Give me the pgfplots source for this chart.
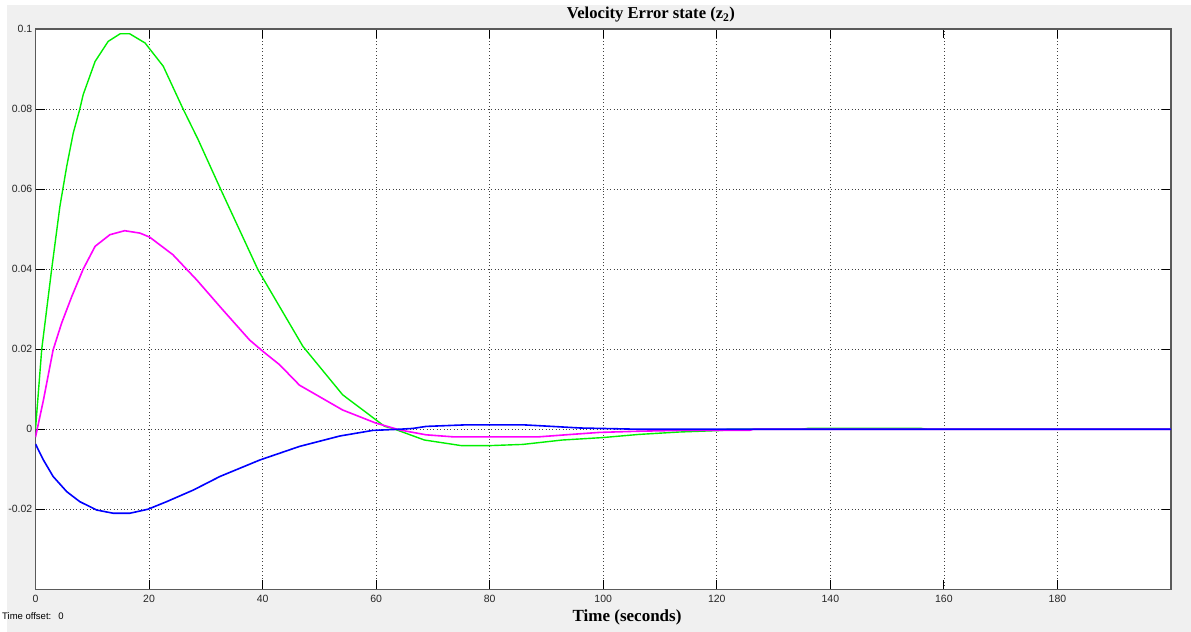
\documentclass[border=0pt]{standalone}
\usepackage{pgfplots}
\pgfplotsset{compat=1.18}
\usepackage{fontspec}
\setmainfont{Liberation Sans}
\newfontfamily\titlefont{Liberation Serif}

\definecolor{scopebg}{HTML}{F0F0F0}
\definecolor{framegray}{HTML}{5A5A5A}
\definecolor{zgreen}{HTML}{00F000}
\definecolor{zmagenta}{HTML}{FF00FF}
\definecolor{zblue}{HTML}{0000FF}

\begin{document}
\begin{tikzpicture}
% scope window background
\useasboundingbox (0,0) rectangle (1191bp,632bp);
\fill[white] (0,0) rectangle (1191bp,632bp);
\fill[scopebg] (7bp,0) rectangle (1191bp,627bp);

\begin{axis}[
    at={(35.5bp,42.7bp)},
    anchor=south west,
    scale only axis,
    width=1135.5bp,
    height=560.3bp,
    xmin=0, xmax=200,
    ymin=-0.04, ymax=0.1,
    xtick={0,20,...,180},
    ytick={-0.02,0,0.02,0.04,0.06,0.08,0.1},
    yticklabels={-0.02,0,0.02,0.04,0.06,0.08,0.1},
    scaled y ticks=false,
    axis background/.style={fill=white},
    axis line style={framegray, line width=1.1bp},
    tick align=inside,
    major tick length=9bp,
    tick style={black, line width=1bp},
    grid=major,
    grid style={black!75, line width=0.7bp, dash pattern=on 0.8bp off 2.6bp},
    /pgf/number format/assume math mode=true,
    ticklabel style={font=\fontsize{10.5bp}{12bp}\selectfont, text=black!85},
    xticklabel style={anchor=base, inner sep=0pt, yshift=-13.4bp},
    yticklabel style={anchor=east, inner sep=0pt, xshift=-3bp},
    title={\titlefont\bfseries Velocity Error state (z\textsubscript{2})},
    title style={at={(axis description cs:0.542,1.008)}, anchor=base,
                 font=\fontsize{16.6bp}{18bp}\selectfont, inner sep=0pt},
    xlabel={\titlefont\bfseries Time (seconds)},
    xlabel style={at={(axis description cs:0.521,-0.058)}, anchor=base,
                  font=\fontsize{17bp}{19bp}\selectfont, inner sep=0pt},
    clip=true,
]

% green
\addplot[zgreen, line width=1.4bp] coordinates {
(0,0) (1.1,0.020) (2.85,0.040) (4.3,0.0557) (5.5,0.0657) (6.65,0.074)
(7.8,0.080) (8.4,0.0836) (10.5,0.0919) (12.8,0.0969) (14.9,0.0988)
(16.6,0.0988) (19.3,0.0965) (22.5,0.0907) (26,0.080) (28.6,0.0725)
(32.6,0.060) (39.2,0.0398) (47.1,0.0207) (54.1,0.0086) (61.5,0.0007)
(62.9,0.0002) (68.5,-0.0027) (75,-0.0041) (80,-0.0041) (85.8,-0.0038)
(92.8,-0.0027) (99.8,-0.0021) (106.3,-0.0013) (113.4,-0.0007)
(121,-0.0003) (122,0) (135,0) (136,0.0002) (156,0.0002) (157,0) (200,0)
};

% magenta
\addplot[zmagenta, line width=1.6bp] coordinates {
(0,-0.002) (1.4,0.0073) (3.1,0.0198) (4.6,0.0265) (6.4,0.0332)
(8.4,0.040) (10.5,0.0457) (13.1,0.0486) (15.7,0.0496) (18.4,0.049)
(20.1,0.048) (24.2,0.0436) (28.4,0.0373) (33,0.0298) (37.7,0.0223)
(40.1,0.0194) (43,0.0161) (46.5,0.011) (54.1,0.0048) (60,0.0015)
(64.2,-0.0002) (68.8,-0.0014) (73.5,-0.0019) (88.7,-0.0019)
(93.4,-0.0014) (99.3,-0.0008) (106.3,-0.0005) (113.4,-0.0003)
(125.7,-0.0003) (126.5,0) (200,0)
};

% blue
\addplot[zblue, line width=1.6bp] coordinates {
(0,-0.0037) (1.4,-0.0077) (3.1,-0.0118) (5.5,-0.0156) (7.8,-0.0181)
(10.8,-0.0202) (13.7,-0.021) (16.6,-0.021) (19.8,-0.020) (23.1,-0.0181)
(27.8,-0.0152) (32.5,-0.0118) (39.5,-0.0077) (46.5,-0.0043)
(53.6,-0.0017) (59.4,-0.0003) (64.2,0) (66.5,0.0002) (68.8,0.0007)
(76,0.0011) (85.8,0.0011) (91,0.0007) (96,0.0003) (106,0) (200,0)
};

\end{axis}

\node[anchor=base west, inner sep=0pt, font=\fontsize{9.5bp}{11bp}\selectfont]
  at (2bp,12.5bp) {Time offset:\hspace{7bp}0};
\end{tikzpicture}
\end{document}
